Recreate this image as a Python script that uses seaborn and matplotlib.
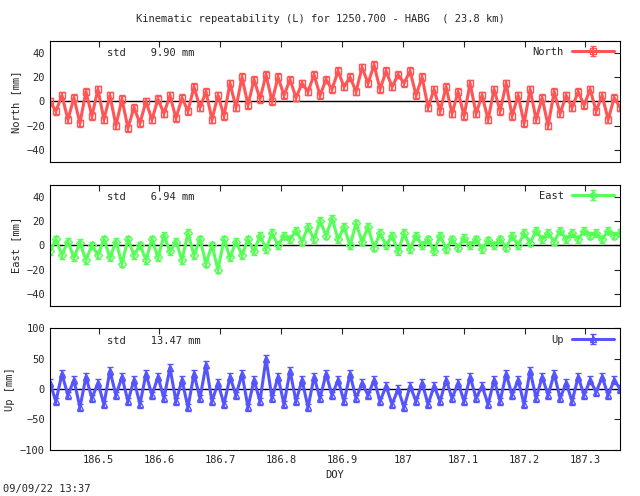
import numpy as np
import matplotlib
matplotlib.use("Agg")
import matplotlib.pyplot as plt
import seaborn as sns

sns.set_style("white")
plt.rcParams["font.family"] = "DejaVu Sans Mono"
plt.rcParams["font.size"] = 7.5

doy_start, doy_end = 186.42, 187.357

north = [0,-8,5,-15,3,-18,8,-12,10,-15,5,-20,2,-22,-5,-18,0,-15,2,-10,5,-14,3,-8,12,-5,8,-15,5,-12,15,-5,
         20,-3,18,2,22,0,20,5,18,3,15,8,22,5,18,10,25,12,20,8,28,15,30,10,25,12,22,15,25,5,20,-5,10,-8,
         12,-10,8,-12,15,-10,5,-15,10,-8,15,-12,5,-18,10,-15,3,-20,8,-10,5,-5,8,-3,10,-8,5,-15,3,-5]
east = [-5,5,-8,3,-10,2,-12,0,-8,5,-10,3,-15,5,-8,0,-12,5,-10,8,-5,3,-12,10,-8,5,-15,0,-20,5,-10,3,
        -8,5,-5,8,-3,10,0,8,5,12,3,15,5,20,8,22,5,15,0,18,3,15,-2,10,0,8,-5,10,-3,8,0,5,
        -5,8,-3,5,-2,6,0,5,-3,4,0,5,-2,8,0,10,2,12,5,10,3,12,5,10,5,12,8,10,5,12,8,10]
up = [10,-20,25,-10,15,-30,20,-15,10,-25,30,-10,20,-20,15,-25,25,-10,20,-15,35,-20,15,-30,25,-15,40,-20,10,-25,20,-10,
      25,-30,15,-20,50,-15,20,-25,30,-20,15,-30,20,-15,25,-10,15,-20,25,-15,10,-10,15,-20,5,-25,0,-30,5,-20,
      10,-25,5,-20,15,-15,10,-20,20,-15,5,-25,15,-20,25,-10,15,-25,30,-15,20,-10,25,-15,10,-20,20,-10,15,-5,20,-10,15,0]

panels = [
    ("North", north, "#ff5555", "s", "9.90", [-40, -20, 0, 20, 40], 50, 0.673, 3),
    ("East", east, "#55ff55", "D", "6.94", [-40, -20, 0, 20, 40], 50, 0.383, 3),
    ("Up", up, "#5555ff", "^", "13.47", [-100, -50, 0, 50, 100], 100, 0.093, 6),
]
xticks = [186.5, 186.6, 186.7, 186.8, 186.9, 187.0, 187.1, 187.2, 187.3]
xlabels = ["186.5", "186.6", "186.7", "186.8", "186.9", "187", "187.1", "187.2", "187.3"]

fig = plt.figure(figsize=(6.4, 4.96), dpi=100)
for name, vals, col, mk, std, yt, lim, bottom, err in panels:
    ax = fig.add_axes([0.078, bottom, 0.891, 0.245])
    x = np.linspace(doy_start, doy_end, len(vals))
    ax.axhline(0, color="black", lw=1)
    ax.errorbar(x, vals, yerr=err, color=col, marker=mk, ms=4, mfc="none",
                lw=2.2, capsize=2, elinewidth=1.5, label=name)
    ax.set_xlim(doy_start, doy_end)
    ax.set_ylim(-lim, lim)
    ax.set_yticks(yt)
    ax.set_xticks(xticks)
    ax.tick_params(direction="in", top=True, right=True, length=4)
    if name == "Up":
        ax.set_xticklabels(xlabels)
        ax.set_xlabel("DOY")
    else:
        ax.set_xticklabels([])
    ax.set_ylabel(f"{name} [mm]")
    ax.text(0.1, 0.9, f"std    {std} mm", transform=ax.transAxes, va="center")
    leg = ax.legend(loc="upper right", frameon=False, markerfirst=False, handlelength=4,
                    borderaxespad=0.2)
    for s in ax.spines.values():
        s.set_color("black")
        s.set_linewidth(0.8)

fig.text(0.5, 0.955, "Kinematic repeatability (L) for 1250.700 - HABG  ( 23.8 km)", ha="center")
fig.text(0.005, 0.008, "09/09/22 13:37")
fig.savefig("out.png", dpi=100)
